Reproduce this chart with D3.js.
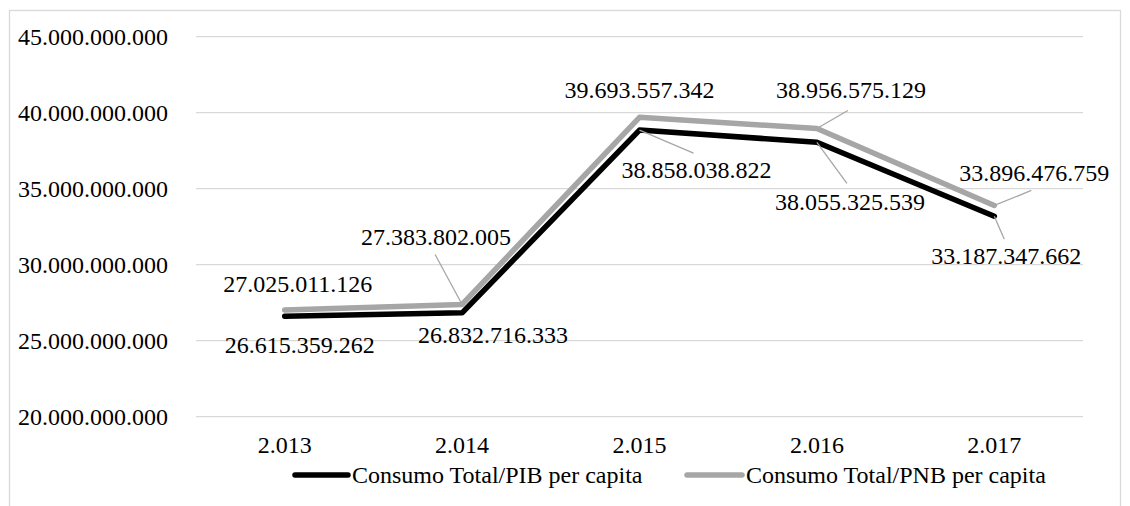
<!DOCTYPE html>
<html>
<head>
<meta charset="utf-8">
<script src="https://cdn.jsdelivr.net/npm/d3@7"></script>
<style>
  body { margin: 0; background: #fff; }
</style>
</head>
<body>
<svg id="svg1" width="1130" height="506"></svg>
<script>
// data
var years = ['2.013', '2.014', '2.015', '2.016', '2.017'];
var pibValues = [26615359262, 26832716333, 38858038822, 38055325539, 33187347662];
var pnbValues = [27025011126, 27383802005, 39693557342, 38956575129, 33896476759];
var seriesNames = ['Consumo Total/PIB per capita', 'Consumo Total/PNB per capita'];
var yTicks = [20000000000, 25000000000, 30000000000, 35000000000, 40000000000, 45000000000];

// where each data label sits, relative to its point (layout only)
var pibLabelOffsets = [[15, 29], [31, 22], [57, 40], [33, 60], [12, 40]];
var pnbLabelOffsets = [[13, -26], [-26, -67], [0, -27], [34, -39], [40, -32]];
var pibLeaders = [null, null, [54, 23], [30, 41], [10, 23]];
var pnbLeaders = [null, [-27, -50], null, [31, -18], [37, -15]];

var svg = d3.select('#svg1');
var fontSize = 24;
var fontFamily = 'Liberation Serif';

// chart border
svg.append('rect')
    .attr('x', 9.5)
    .attr('y', 10.5)
    .attr('width', 1111)
    .attr('height', 530)
    .attr('fill', 'none')
    .attr('stroke', '#d9d9d9')
    .attr('stroke-width', 1.3);

var x = d3.scaleBand()
    .domain(years)
    .range([196, 1083]);

var y = d3.scaleLinear()
    .domain([20000000000, 45000000000])
    .range([416.7, 36.7]);

var fmt = function(v) {
    return d3.format(',')(v).replace(/,/g, '.');
};

// gridlines
svg.append('g')
    .selectAll('line')
    .data(yTicks)
    .enter()
    .append('line')
    .attr('x1', 196)
    .attr('x2', 1083)
    .attr('y1', function(d){ return y(d); })
    .attr('y2', function(d){ return y(d); })
    .attr('stroke', '#d9d9d9')
    .attr('stroke-width', 1.3);

// y tick labels
svg.append('g')
    .selectAll('text')
    .data(yTicks)
    .enter()
    .append('text')
    .attr('x', 168)
    .attr('y', function(d){ return y(d) + 8; })
    .attr('text-anchor', 'end')
    .attr('font-family', fontFamily)
    .attr('font-size', fontSize)
    .attr('fill', '#000')
    .text(fmt);

// x tick labels
svg.append('g')
    .selectAll('text')
    .data(years)
    .enter()
    .append('text')
    .attr('x', function(d){ return x(d) + x.bandwidth() / 2; })
    .attr('y', 453)
    .attr('text-anchor', 'middle')
    .attr('font-family', fontFamily)
    .attr('font-size', fontSize)
    .attr('fill', '#000')
    .text(function(d){ return d; });

var line = d3.line()
    .x(function(d, i){ return x(years[i]) + x.bandwidth() / 2; })
    .y(function(d){ return y(d); });

function drawSeries(values, color) {
    svg.append('path')
        .datum(values)
        .attr('d', line)
        .attr('fill', 'none')
        .attr('stroke', color)
        .attr('stroke-width', 5.5)
        .attr('stroke-linecap', 'round')
        .attr('stroke-linejoin', 'round');
}

function drawLabels(values, offsets, leaders) {
    values.forEach(function(v, i){
        var px = x(years[i]) + x.bandwidth() / 2;
        var py = y(v);
        if (leaders[i]) {
            svg.append('line')
                .attr('x1', px)
                .attr('y1', py)
                .attr('x2', px + leaders[i][0])
                .attr('y2', py + leaders[i][1])
                .attr('stroke', '#a6a6a6')
                .attr('stroke-width', 1.3);
        }
        svg.append('text')
            .attr('x', px + offsets[i][0])
            .attr('y', py + offsets[i][1] + 8)
            .attr('text-anchor', 'middle')
            .attr('font-family', fontFamily)
            .attr('font-size', fontSize)
            .attr('fill', '#000')
            .text(fmt(v));
    });
}

drawSeries(pnbValues, '#a6a6a6');
drawSeries(pibValues, '#000000');
drawLabels(pnbValues, pnbLabelOffsets, pnbLeaders);
drawLabels(pibValues, pibLabelOffsets, pibLeaders);

// legend
var legendItems = [
    {name: seriesNames[0], color: '#000000', x1: 295, x2: 348},
    {name: seriesNames[1], color: '#a6a6a6', x1: 687, x2: 742}
];
var legend = svg.append('g');
legendItems.forEach(function(d){
    legend.append('line')
        .attr('x1', d.x1)
        .attr('x2', d.x2)
        .attr('y1', 475)
        .attr('y2', 475)
        .attr('stroke', d.color)
        .attr('stroke-width', 5.5)
        .attr('stroke-linecap', 'round');
    legend.append('text')
        .attr('x', d.x2 + 4)
        .attr('y', 483)
        .attr('font-family', fontFamily)
        .attr('font-size', fontSize)
        .attr('fill', '#000')
        .text(d.name);
});
</script>
</body>
</html>
